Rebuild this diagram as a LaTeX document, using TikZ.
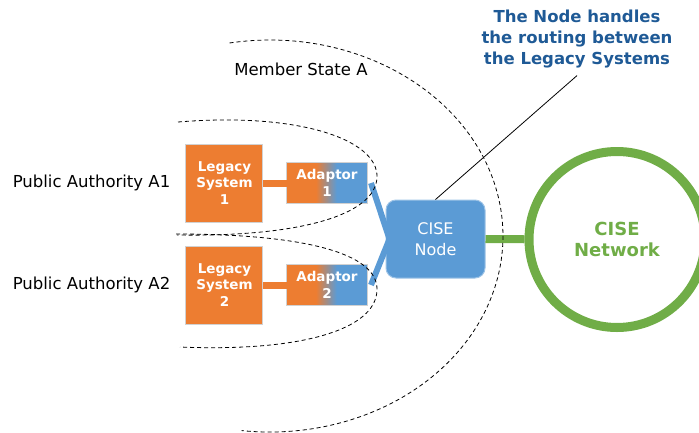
\documentclass[tikz,border=0pt]{standalone}
\usepackage{fontspec}
\setmainfont{DejaVu Sans}
\usepackage{tikz}
\usetikzlibrary{positioning}
\definecolor{cseorange}{HTML}{ED7D31}
\definecolor{cseblue}{HTML}{5B9BD5}
\definecolor{csegreen}{HTML}{70AD47}
\definecolor{csenote}{HTML}{1F5A96}
\pgfdeclarehorizontalshading{adaptorfill}{100bp}{color(0bp)=(cseorange); color(43bp)=(cseorange); color(56bp)=(cseblue); color(100bp)=(cseblue)}

\begin{document}
\begin{tikzpicture}[x=1pt,y=-1pt,
  authority/.style={inner sep=0pt,outer sep=0pt,minimum width=162pt,font=\fontsize{16.5}{20}\selectfont},
  legacy/.style={fill=cseorange,draw=black!18,line width=1pt,inner sep=0pt,outer sep=0pt,minimum width=77pt,minimum height=78pt,align=center,text=white,font=\bfseries\fontsize{13.5}{16.5}\selectfont},
  adaptor/.style={shade,shading=adaptorfill,draw=black!18,line width=1pt,inner sep=0pt,outer sep=0pt,minimum width=80pt,minimum height=41pt,align=center,text=white,font=\bfseries\fontsize{13.5}{16.5}\selectfont},
  zone/.style={line width=0.8pt,dash pattern=on 4pt off 3pt}]
\useasboundingbox (0,0) rectangle (699,432);
\clip (0,0) rectangle (699,432);
\matrix (pa) at (189,234) [inner sep=0pt,outer sep=0pt,column sep=13pt,row sep=23pt]
{
\node[authority](pa1){Public Authority A1}; & \node[legacy](ls1){Legacy\\System\\1}; & [10pt] \node[adaptor](ad1){Adaptor\\1}; \\
\node[authority](pa2){Public Authority A2}; & \node[legacy](ls2){Legacy\\System\\2}; &         \node[adaptor](ad2){Adaptor\\2}; \\
};
\node[fill=cseblue,draw=cseblue!60!white,line width=1pt,rounded corners=10pt,minimum width=99pt,minimum height=78pt,
      align=center,text=white,font=\fontsize{16}{21}\selectfont](cise) at (435.5,239){CISE\\Node};
\node[circle,draw=csegreen,line width=9pt,inner sep=0pt,minimum size=176pt,align=center,text=csegreen,
      font=\bfseries\fontsize{18}{21}\selectfont](net) at (617,239.5){CISE\\Network};
\node[align=center,text=csenote,font=\bfseries\fontsize{16.5}{21}\selectfont](note) at (577,39)
      {The Node handles\\the routing between\\the Legacy Systems};
\node[font=\fontsize{16.5}{20}\selectfont](ms) at (301,69){Member State A};
% links
\draw[cseorange,line width=7pt] (ls1) -- (ad1);
\draw[cseorange,line width=7pt] (ls2) -- (ad2);
\draw[cseblue,line width=6pt] ([xshift=4pt]ad1.east) -- ([xshift=4pt]cise.west);
\draw[cseblue,line width=6pt] ([xshift=4pt]ad2.east) -- ([xshift=4pt]cise.west);
\draw[csegreen,line width=8pt] (cise) -- (net);
\draw[line width=0.8pt] ([yshift=-4pt]note.south) -- (cise.north);
% dashed zones
\draw[zone] (229.5,43) arc[start angle=-100,end angle=97,x radius=233,y radius=196];
\draw[zone] (178,122) .. controls (300,112) and (378,140) .. (377,177) .. controls (376,215) and (300,237) .. (177,235);
\draw[zone] (176,234) .. controls (300,234) and (378,252) .. (377,290) .. controls (376,330) and (300,352) .. (180,347);
\end{tikzpicture}
\end{document}
